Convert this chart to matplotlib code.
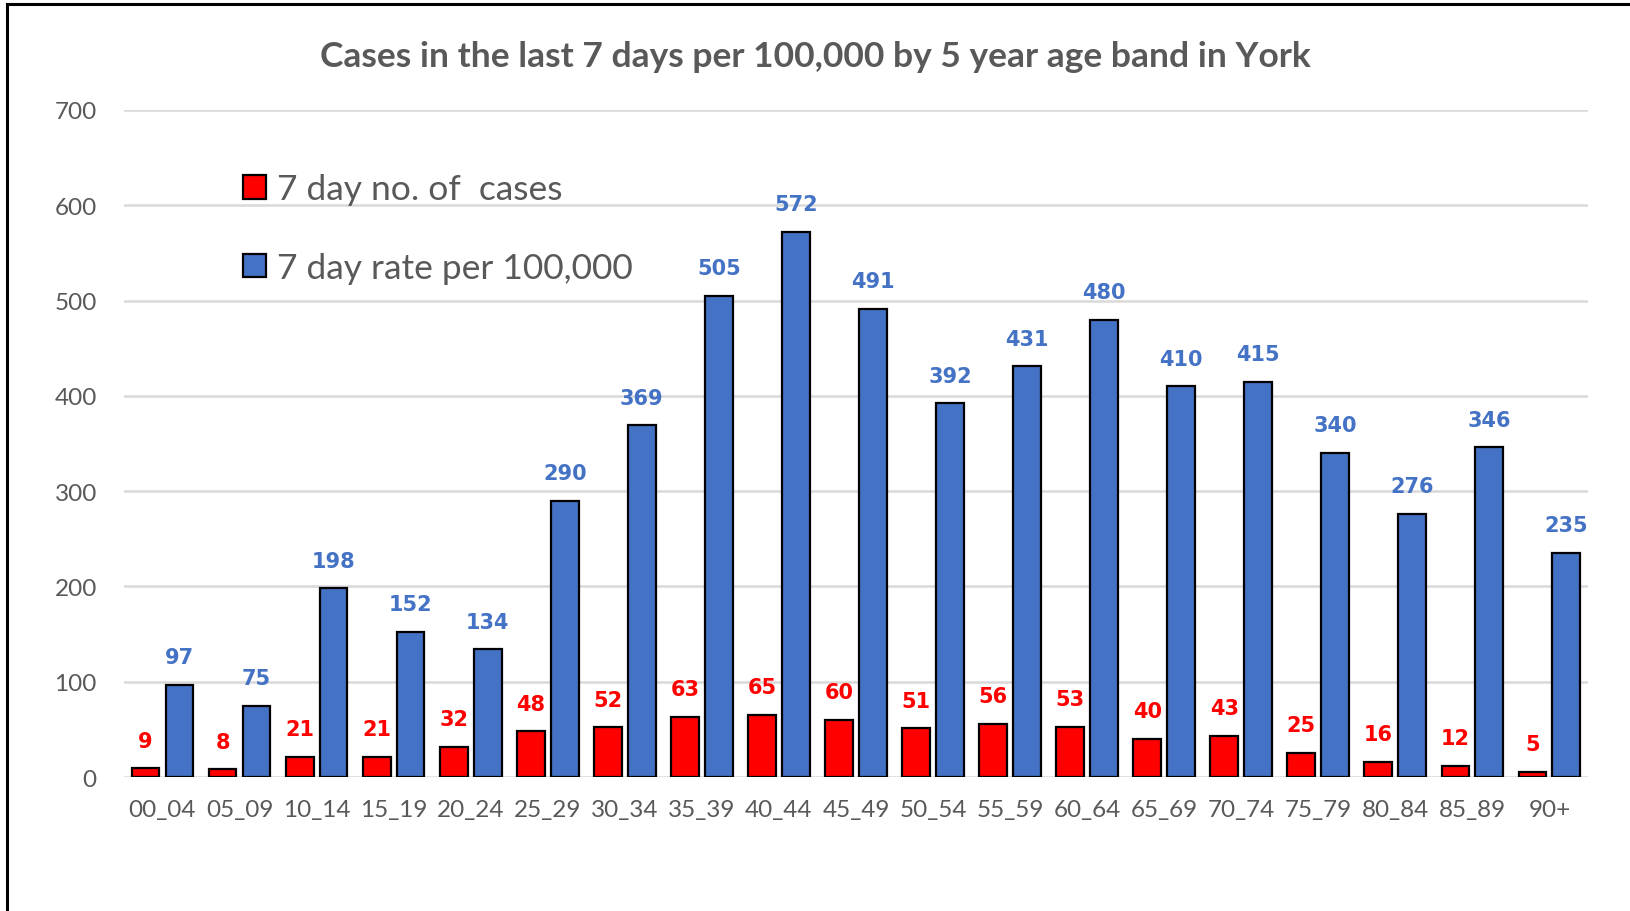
import numpy as np
import matplotlib
matplotlib.use("Agg")
import matplotlib.pyplot as plt
from matplotlib.lines import Line2D

age_bands = ["00_04", "05_09", "10_14", "15_19", "20_24", "25_29", "30_34", "35_39",
             "40_44", "45_49", "50_54", "55_59", "60_64", "65_69", "70_74", "75_79",
             "80_84", "85_89", "90+"]
cases_7day = [9, 8, 21, 21, 32, 48, 52, 63, 65, 60, 51, 56, 53, 40, 43, 25, 16, 12, 5]
rate_7day = [97, 75, 198, 152, 134, 290, 369, 505, 572, 491, 392, 431, 480, 410, 415,
             340, 276, 346, 235]

plt.rcParams["font.family"] = ["Lato", "DejaVu Sans"]
grey = "#595959"
red = "#FF0000"
blue = "#4472C4"

fig = plt.figure(figsize=(16.31, 9.12), dpi=100)
ax = fig.add_axes([0.0760, 0.1469, 0.8976, 0.7314])

x = np.arange(len(age_bands))
w = 0.36
b1 = ax.bar(x - 0.22, cases_7day, w, color=red, edgecolor="black", linewidth=1.6,
            zorder=3, label="7 day no. of  cases")
b2 = ax.bar(x + 0.22, rate_7day, w, color=blue, edgecolor="black", linewidth=1.6,
            zorder=3, label="7 day rate per 100,000")

# data labels
for xi, v in zip(x, cases_7day):
    ax.annotate(str(v), (xi - 0.22, v), xytext=(0, 20), textcoords="offset points",
                ha="center", va="center", color=red, fontsize=15, fontweight="bold",
                family="DejaVu Sans")
for xi, v in zip(x, rate_7day):
    ax.annotate(str(v), (xi + 0.22, v), xytext=(0, 20), textcoords="offset points",
                ha="center", va="center", color=blue, fontsize=15, fontweight="bold",
                family="DejaVu Sans")

ax.set_xlim(-0.5, len(age_bands) - 0.5)
ax.set_ylim(0, 700)
ax.set_yticks(range(0, 701, 100))
ax.set_xticks(x)
ax.set_xticklabels(age_bands)
ax.tick_params(axis="both", length=0, labelsize=17.5, labelcolor=grey)
ax.tick_params(axis="x", pad=16)
ax.tick_params(axis="y", pad=19.5)
ax.grid(axis="y", color="#D9D9D9", linewidth=1.8, zorder=0)
ax.set_axisbelow(True)
for s in ax.spines.values():
    s.set_visible(False)

fig.text(0.5, 0.937, "Cases in the last 7 days per 100,000 by 5 year age band in York",
         ha="center", va="center", fontsize=25.5, fontweight="bold", color=grey)

leg = ax.legend(handles=[b1, b2], loc="upper left", bbox_to_anchor=(0.149, 0.809),
                bbox_transform=fig.transFigure, frameon=False, fontsize=25.5,
                handlelength=0.65, handleheight=0.65, handletextpad=0.3,
                labelspacing=1.32, borderaxespad=0, borderpad=0)
for t in leg.get_texts():
    t.set_color(grey)

# chart border (left and top edges only)
fig.add_artist(Line2D([0.0043, 0.0043], [0, 0.994], transform=fig.transFigure,
                      color="black", linewidth=2.2))
fig.add_artist(Line2D([0.0043, 1], [0.994, 0.994], transform=fig.transFigure,
                      color="black", linewidth=2.2))

fig.savefig("out.png", dpi=100)
